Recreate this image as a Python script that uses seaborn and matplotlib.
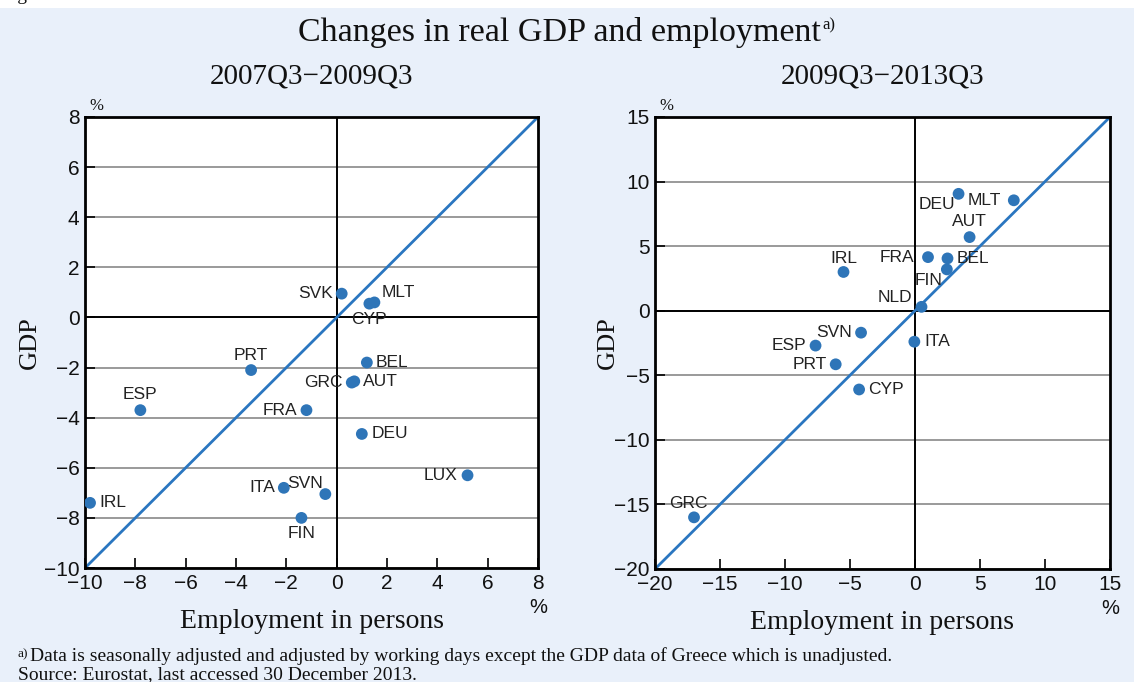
import matplotlib
matplotlib.use('Agg')

import pandas as pd
import seaborn as sns
import matplotlib.pyplot as plt

# Panel 1: 2007Q3-2009Q3 (changes in %)
countries_0709 = ['SVK', 'MLT', 'CYP', 'PRT', 'BEL', 'GRC', 'AUT', 'ESP',
                  'FRA', 'DEU', 'LUX', 'ITA', 'SVN', 'FIN', 'IRL']
employment_0709 = [0.2, 1.5, 1.3, -3.4, 1.2, 0.6, 0.7, -7.8,
                   -1.2, 1.0, 5.2, -2.1, -0.45, -1.4, -9.8]
gdp_0709 = [0.95, 0.6, 0.55, -2.1, -1.8, -2.6, -2.55, -3.7,
            -3.7, -4.65, -6.3, -6.8, -7.05, -8.0, -7.4]

# Panel 2: 2009Q3-2013Q3 (changes in %)
countries_0913 = ['DEU', 'MLT', 'AUT', 'FRA', 'BEL', 'FIN', 'IRL', 'NLD',
                  'SVN', 'ESP', 'ITA', 'PRT', 'CYP', 'GRC']
employment_0913 = [3.35, 7.6, 4.2, 1.0, 2.5, 2.45, -5.5, 0.5,
                   -4.15, -7.65, -0.05, -6.1, -4.3, -17.0]
gdp_0913 = [9.05, 8.55, 5.7, 4.15, 4.05, 3.2, 3.0, 0.3,
            -1.7, -2.7, -2.4, -4.15, -6.1, -16.0]

ticks_0709 = [-10, -8, -6, -4, -2, 0, 2, 4, 6, 8]
ticks_0913 = [-20, -15, -10, -5, 0, 5, 10, 15]

# label offsets (points) and alignment
labels_0709 = {
    'SVK': (-6, 0, 'right'), 'MLT': (5, 7, 'left'), 'CYP': (0, -11.5, 'center'),
    'PRT': (0, 10.5, 'center'), 'BEL': (6.5, 0, 'left'), 'GRC': (-6.5, 0, 'right'),
    'AUT': (6.5, 0, 'left'), 'ESP': (0, 11, 'center'), 'FRA': (-6.5, 0, 'right'),
    'DEU': (7, 0, 'left'), 'LUX': (-7, 0, 'right'), 'ITA': (-6, 0, 'right'),
    'SVN': (-14.5, 7.5, 'center'), 'FIN': (0, -11.5, 'center'), 'IRL': (6.5, 0, 'left'),
}
labels_0913 = {
    'DEU': (-2.5, -8, 'right'), 'MLT': (-9.5, 0, 'right'), 'AUT': (0, 11, 'center'),
    'FRA': (-10, 0, 'right'), 'BEL': (6.5, 0, 'left'), 'FIN': (-13, -8, 'center'),
    'IRL': (0, 10, 'center'), 'NLD': (-7, 7, 'right'), 'SVN': (-6.5, 0, 'right'),
    'ESP': (-6.5, 0, 'right'), 'ITA': (7, 0, 'left'), 'PRT': (-6.5, 0, 'right'),
    'CYP': (6.5, 0, 'left'), 'GRC': (-4, 10, 'center'),
}

BG = '#e9f0fa'
DOT = '#2e75b8'
LINE = '#2a76c0'
SERIF = ['Liberation Serif', 'DejaVu Serif']

sns.set_theme(style='white')
plt.rcParams['font.family'] = ['Liberation Sans', 'DejaVu Sans']
plt.rcParams['axes.unicode_minus'] = True


def panel(ax, countries, employment, gdp, ticks, placements, subtitle, ylab_x):
    """Draw one scatter panel with 45 degree line and country labels."""
    df = pd.DataFrame({'country': countries, 'employment': employment, 'gdp': gdp})
    lo, hi = ticks[0], ticks[-1]
    ax.set_facecolor('white')
    ax.set_xlim(lo, hi)
    ax.set_ylim(lo, hi)
    ax.set_xticks(ticks)
    ax.set_yticks(ticks)
    ax.yaxis.grid(True, color='#9a9a9a', lw=1.4, zorder=0)
    ax.xaxis.grid(False)
    ax.set_axisbelow(True)
    ax.axhline(0, color='black', lw=1.4, zorder=1)
    ax.axvline(0, color='black', lw=1.4, zorder=1)
    ax.axline((0, 0), slope=1, color=LINE, lw=2, zorder=2)

    sns.scatterplot(data=df, x='employment', y='gdp', ax=ax, color=DOT,
                    s=72, edgecolor='none', zorder=4, legend=False)
    for _, r in df.iterrows():
        dx, dy, ha = placements[r['country']]
        ax.annotate(r['country'], (r['employment'], r['gdp']), xytext=(dx, dy),
                    textcoords='offset points', ha=ha, va='center',
                    fontsize=12.5, color='#222222', zorder=5)

    for s in ax.spines.values():
        s.set_visible(True)
        s.set_color('black')
        s.set_linewidth(2)
    ax.tick_params(direction='in', length=7, width=1.2, color='black',
                   left=True, bottom=True, labelsize=15, labelcolor='#111111', pad=4)

    ax.set_xlabel('Employment in persons', fontsize=20, family=SERIF, color='#111111')
    ax.set_ylabel('GDP', fontsize=19, family=SERIF, color='#111111')
    ax.xaxis.set_label_coords(0.5, -0.09)
    ax.yaxis.set_label_coords(ylab_x, 0.5)
    ax.set_title(subtitle, fontsize=21, family=SERIF, color='#111111', pad=24)

    ax.text(0.025, 1.006, '%', transform=ax.transAxes, ha='center', va='bottom',
            fontsize=12, family=SERIF, color='#111111')
    ax.text(1.0, -0.087, '%', transform=ax.transAxes, ha='center', va='center',
            fontsize=14.5, color='#111111')


fig = plt.figure(figsize=(11.34, 6.82), dpi=100)
fig.patch.set_facecolor('white')
fig.add_artist(plt.Rectangle((0, 0), 1, 1 - 8 / 682, transform=fig.transFigure,
                             facecolor=BG, edgecolor='none', zorder=-10))
# cut-off figure caption above the panel
fig.text(1 / 1134, 1 + 0.5 / 682, 'Figure', fontsize=14, family=SERIF,
         va='baseline', ha='left', color='#111111')

ax1 = fig.add_axes([85 / 1134, 1 - 568 / 682, 453 / 1134, 451 / 682])
ax2 = fig.add_axes([655 / 1134, 1 - 569 / 682, 455 / 1134, 452 / 682])

panel(ax1, countries_0709, employment_0709, gdp_0709, ticks_0709, labels_0709,
      '2007Q3\u22122009Q3', -0.097)
panel(ax2, countries_0913, employment_0913, gdp_0913, ticks_0913, labels_0913,
      '2009Q3\u22122013Q3', -0.079)

title = fig.text(559.5 / 1134, 1 - 40.5 / 682, 'Changes in real GDP and employment',
                 fontsize=24.5, family=SERIF, ha='center', va='baseline', color='#111111')
ax1.annotate('a)', xy=(1.0, 0.72), xycoords=title, xytext=(1, 0),
             textcoords='offset points', ha='left', va='center',
             fontsize=12, family=SERIF, color='#111111', annotation_clip=False)

fig.text(18 / 1134, 1 - 657 / 682, 'a)', fontsize=9.5, family=SERIF,
         ha='left', va='baseline', color='#111111')
fig.text(30 / 1134, 1 - 661 / 682,
         'Data is seasonally adjusted and adjusted by working days except the GDP data of Greece which is unadjusted.',
         fontsize=14, family=SERIF, ha='left', va='baseline', color='#111111')
fig.text(18 / 1134, 1 - 679 / 682, 'Source: Eurostat, last accessed 30 December 2013.',
         fontsize=14, family=SERIF, ha='left', va='baseline', color='#111111')

plt.savefig('out.png', dpi=100, facecolor=fig.get_facecolor())
